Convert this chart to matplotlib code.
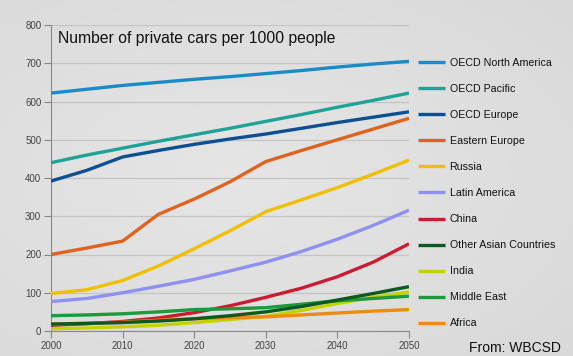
import numpy as np
import matplotlib
matplotlib.use("Agg")
import matplotlib.pyplot as plt

years = [2000, 2005, 2010, 2015, 2020, 2025, 2030, 2035, 2040, 2045, 2050]

oecd_north_america = [622, 632, 642, 650, 658, 665, 673, 681, 690, 698, 705]
oecd_pacific = [440, 460, 478, 496, 513, 530, 548, 566, 585, 603, 622]
oecd_europe = [392, 420, 455, 472, 488, 502, 515, 530, 545, 559, 573]
eastern_europe = [200, 217, 235, 305, 345, 390, 443, 472, 500, 528, 556]
russia = [98, 108, 132, 170, 215, 262, 312, 343, 375, 410, 447]
latin_america = [77, 85, 100, 117, 135, 157, 180, 208, 240, 276, 316]
china = [15, 19, 25, 34, 48, 66, 88, 112, 142, 180, 228]
other_asian = [18, 20, 22, 26, 32, 40, 50, 64, 81, 98, 116]
india = [6, 8, 11, 15, 22, 30, 38, 54, 72, 88, 102]
middle_east = [40, 42, 45, 50, 56, 58, 61, 70, 79, 85, 91]
africa = [18, 20, 23, 28, 32, 35, 37, 42, 47, 52, 56]

series = [
    ("OECD North America", oecd_north_america, "#1b8bc8"),
    ("OECD Pacific", oecd_pacific, "#1ea396"),
    ("OECD Europe", oecd_europe, "#0c4f92"),
    ("Eastern Europe", eastern_europe, "#e0621f"),
    ("Russia", russia, "#f0c000"),
    ("Latin America", latin_america, "#8e90f2"),
    ("China", china, "#cc1b31"),
    ("Other Asian Countries", other_asian, "#0c5a20"),
    ("India", india, "#c5d200"),
    ("Middle East", middle_east, "#1c9a3c"),
    ("Africa", africa, "#ee8b12"),
]
draw_order = ["OECD North America", "OECD Pacific", "OECD Europe", "Eastern Europe",
              "Russia", "Latin America", "China", "India", "Africa", "Middle East",
              "Other Asian Countries"]

y_ticks = [0, 100, 200, 300, 400, 500, 600, 700, 800]
x_ticks = [2000, 2010, 2020, 2030, 2040, 2050]

plt.rcParams['font.family'] = ['Liberation Sans', 'DejaVu Sans']

fig = plt.figure(figsize=(5.73, 3.56), dpi=100)
fig.patch.set_facecolor("#dedede")

# background gradient
bg = fig.add_axes([0, 0, 1, 1], zorder=-10)
yy, xx = np.mgrid[0:1:200j, 0:1:300j]
d = np.sqrt(((xx - 0.4) / 1.0) ** 2 + ((yy - 0.5) / 0.9) ** 2)
g = 0.90 - 0.06 * d
bg.imshow(np.dstack([g, g, g]), extent=[0, 1, 0, 1], aspect='auto')
bg.axis('off')

ax = fig.add_axes([51 / 573, 25 / 356, 358 / 573, 306 / 356])
ax.set_facecolor("none")

handles = {}
for name, vals, col in series:
    z = 3 + draw_order.index(name)
    (ln,) = ax.plot(years, vals, color=col, lw=2.4, zorder=z, solid_capstyle='butt', label=name)
    handles[name] = ln

ax.set_xlim(2000, 2050)
ax.set_ylim(0, 800)
ax.set_yticks(y_ticks)
ax.set_xticks(x_ticks)
ax.set_yticklabels([str(v) for v in y_ticks])
ax.set_xticklabels([str(v) for v in x_ticks])
ax.tick_params(axis='both', labelsize=7, colors="#888888", labelcolor="#444444",
               length=5, width=0.8, pad=2)
ax.grid(axis='y', color="#c4c4c4", lw=0.9, zorder=0)
for s in ["top", "right"]:
    ax.spines[s].set_visible(False)
for s in ["left", "bottom"]:
    ax.spines[s].set_color("#888888")
    ax.spines[s].set_linewidth(0.8)

fig.text(58 / 573, 1 - 38 / 356, "Number of private cars per 1000 people",
         fontsize=11.3, color="#111111", va='center', ha='left')

leg = fig.legend([handles[n] for n, _, _ in series], [n for n, _, _ in series],
                 loc='upper left', bbox_to_anchor=(418 / 573, 1 - 58 / 356),
                 frameon=False, fontsize=7.7, handlelength=2.5, handletextpad=0.45,
                 labelspacing=1.5, borderpad=0, borderaxespad=0)
for t in leg.get_texts():
    t.set_color("#111111")

fig.text(469 / 573, 1 - 347.7 / 356, "From: WBCSD", fontsize=10, color="#111111",
         va='center', ha='left')

fig.savefig("out.png", dpi=100, facecolor=fig.get_facecolor())
